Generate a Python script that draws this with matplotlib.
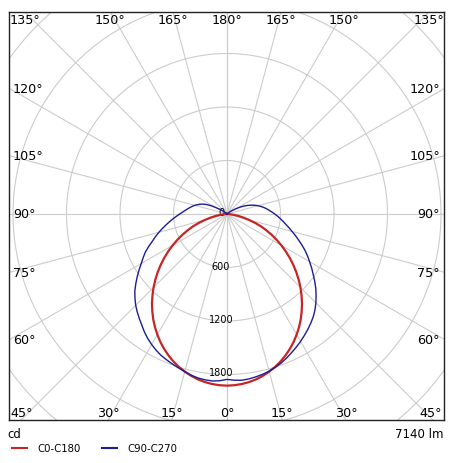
import numpy as np
import matplotlib
matplotlib.use("Agg")
import matplotlib.pyplot as plt

# luminous intensity (cd), angle measured from nadir (0 = straight down)
ANGLES = [0, 2.5, 5, 7.5, 10, 12.5, 15, 17.5, 20, 22.5,
          25, 27.5, 30, 32.5, 35, 37.5, 40, 42.5, 45, 47.5,
          50, 52.5, 55, 57.5, 60, 62.5, 65, 67.5, 70, 72.5,
          75, 77.5, 80, 82.5, 85, 87.5, 90, 92.5, 95, 97.5,
          100, 102.5, 105, 107.5, 110, 112.5, 115, 117.5, 120, 122.5,
          125, 127.5, 130,
          135, 140, 150, 165, 180]

C0_C180 = [1925, 1922, 1914, 1901, 1883, 1859, 1830, 1797, 1759, 1716,
           1669, 1618, 1562, 1504, 1442, 1376, 1309, 1237, 1165, 1090,
           1014, 937, 860, 782, 705, 628, 552, 478, 406, 330,
           255, 190, 135, 85, 45, 15, 0, 0, 0, 0,
           0, 0, 0, 0, 0, 0, 0, 0, 0, 0,
           0, 0, 0,
           0, 0, 0, 0, 0]

C90 = [1855, 1866, 1872, 1866, 1855, 1842, 1825, 1803, 1778, 1748,
       1715, 1683, 1650, 1615, 1580, 1543, 1505, 1460, 1410, 1355,
       1300, 1240, 1180, 1125, 1070, 1018, 965, 910, 855, 805,
       755, 712, 670, 635, 600, 568, 535, 505, 475, 448,
       420, 390, 360, 325, 290, 252, 212, 168, 125, 88,
       60, 40, 25,
       15, 10, 5, 0, 0]

C270 = [1855, 1872, 1880, 1876, 1868, 1852, 1830, 1810, 1790, 1770,
        1750, 1722, 1690, 1655, 1615, 1570, 1530, 1490, 1448, 1400,
        1350, 1290, 1230, 1170, 1110, 1060, 1010, 950, 890, 840,
        790, 740, 692, 648, 606, 566, 530, 498, 470, 445,
        421, 398, 375, 348, 320, 290, 250, 200, 145, 100,
        68, 45, 30,
        18, 10, 5, 0, 0]

RINGS = [600, 1200, 1800, 2400, 3000, 3600]
RING_LABELS = [0, 600, 1200, 1800]
SPOKES = list(range(0, 181, 15))
FLUX_TEXT = "7140 lm"
UNIT_TEXT = "cd"
SERIES_NAMES = ["C0-C180", "C90-C270"]
COLORS = ["#c82424", "#1c1c96"]

W, H = 456, 464
CX, CY = 227, 215          # pole position in pixels
BOX = (9, 13, 444, 421)    # left, top, right, bottom in pixels
SCALE = 600 / 53.5         # cd per pixel

assert len(ANGLES) == len(C0_C180) == len(C90) == len(C270)


def to_xy(theta_deg, r, side):
    t = np.radians(np.asarray(theta_deg, dtype=float))
    r = np.asarray(r, dtype=float)
    return side * r * np.sin(t), -r * np.cos(t)


fig = plt.figure(figsize=(W / 100, H / 100), dpi=100)
left, top, right, bottom = BOX
ax = fig.add_axes([left / W, 1 - bottom / H, (right - left) / W, (bottom - top) / H])
xmin, xmax = (left - CX) * SCALE, (right - CX) * SCALE
ymin, ymax = -(bottom - CY) * SCALE, (CY - top) * SCALE
ax.set_xlim(xmin, xmax)
ax.set_ylim(ymin, ymax)
ax.set_xticks([])
ax.set_yticks([])
for sp in ax.spines.values():
    sp.set_linewidth(1.0)
    sp.set_color("#222222")

grid_kw = dict(color="#cccccc", lw=0.8, zorder=1)
phi = np.linspace(0, 2 * np.pi, 400)
for r in RINGS:
    ax.plot(r * np.cos(phi), r * np.sin(phi), **grid_kw)
for a in SPOKES:
    for side in (-1, 1):
        x, y = to_xy([0, a], [0, 5000], side)
        ax.plot(x, y, **grid_kw)

# angle labels where the spokes meet the frame
for a in SPOKES:
    for side in (-1, 1):
        if a in (0, 180) and side == -1:
            continue
        t = np.radians(a)
        dx, dy = side * np.sin(t), -np.cos(t)
        edge_x = xmax if dx > 0 else xmin
        edge_y = ymax if dy > 0 else ymin
        sx = edge_x / dx if abs(dx) > 1e-9 else np.inf
        sy = edge_y / dy if abs(dy) > 1e-9 else np.inf
        lab = f"{a}\u00b0"
        if sy <= sx:
            x = np.clip(sy * dx, xmin + 13 * SCALE, xmax - 13 * SCALE)
            y = ymax - 7.5 * SCALE if dy > 0 else ymin + 7.3 * SCALE
            ax.text(x, y, lab, ha="center", va="center", fontsize=9.2, zorder=3)
        else:
            y = sx * dy
            if dx < 0:
                ax.text(xmin + 4 * SCALE, y, lab, ha="left", va="center", fontsize=9.2, zorder=3)
            else:
                ax.text(xmax - 4 * SCALE, y, lab, ha="right", va="center", fontsize=9.2, zorder=3)

for v in RING_LABELS:
    ax.text(-6 * SCALE, -v + 2 * SCALE, str(v), ha="center", va="center", fontsize=7, zorder=3)

# C0-C180
xr, yr = to_xy(ANGLES, C0_C180, 1)
xl, yl = to_xy(ANGLES, C0_C180, -1)
ax.plot(np.concatenate([xl[::-1], xr]), np.concatenate([yl[::-1], yr]),
        color=COLORS[0], lw=1.6, zorder=4)

# C90-C270
xr, yr = to_xy(ANGLES, C90, 1)
xl, yl = to_xy(ANGLES, C270, -1)
ax.plot(np.concatenate([xl[::-1], xr]), np.concatenate([yl[::-1], yr]),
        color=COLORS[1], lw=1.0, zorder=5)

fig.text(7 / W, 1 - 435 / H, UNIT_TEXT, ha="left", va="center", fontsize=8.5)
fig.text(444 / W, 1 - 435 / H, FLUX_TEXT, ha="right", va="center", fontsize=8.5)

leg_y = 1 - 449 / H
for i, (name, col) in enumerate(zip(SERIES_NAMES, COLORS)):
    x0 = 12 + i * 90
    fig.add_artist(plt.Line2D([x0 / W, (x0 + 15) / W], [leg_y, leg_y], color=col, lw=1.5,
                              transform=fig.transFigure))
    fig.text((x0 + 25) / W, leg_y, name, ha="left", va="center", fontsize=7.3)

fig.savefig("out.png", dpi=100)
